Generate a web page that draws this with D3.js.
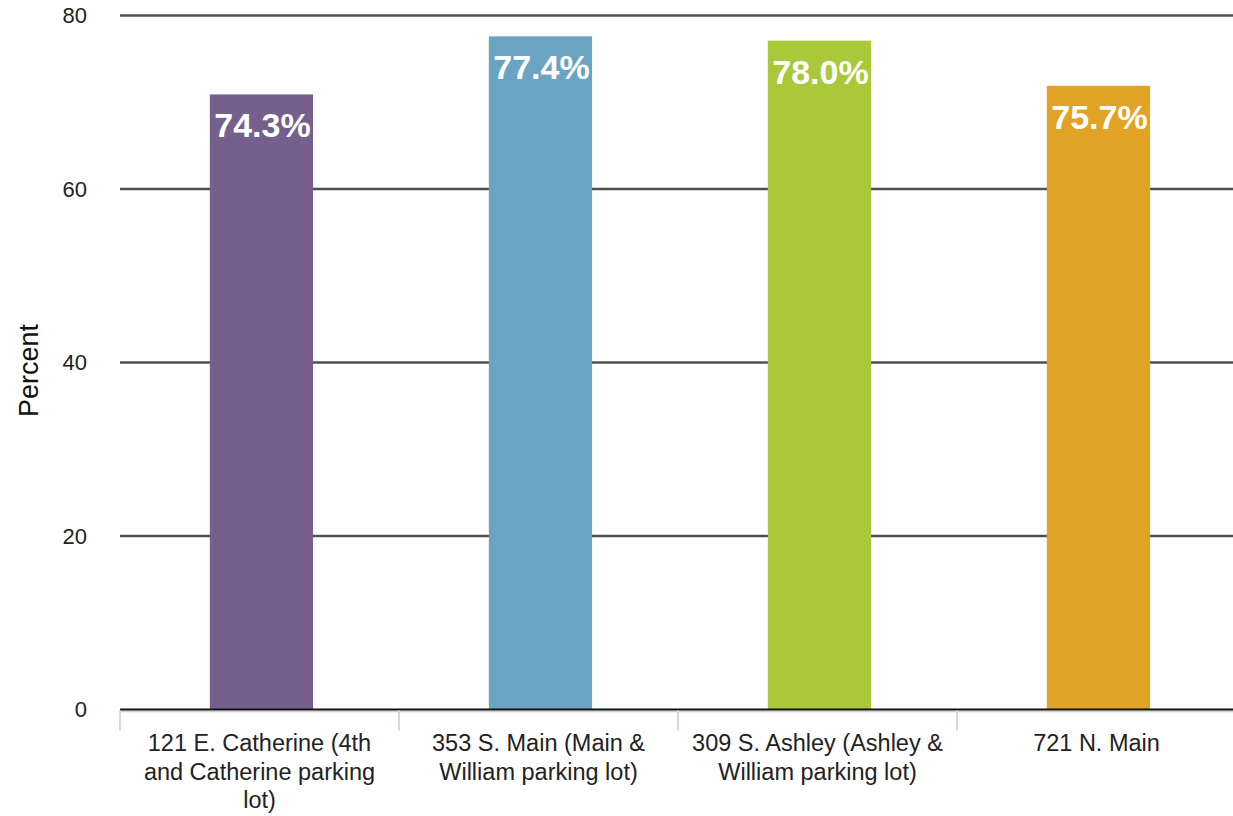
<!DOCTYPE html>
<html>
<head>
<meta charset="utf-8">
<script src="https://cdn.jsdelivr.net/npm/d3@7"></script>
<style>
  html, body { margin: 0; padding: 0; background: #fff; }
  svg { display: block; font-family: "Liberation Sans", Arial, sans-serif; }
</style>
</head>
<body>
<svg id="chart" width="1233" height="816"></svg>
<script>
// ---- data ----
const categories = [
  "121 E. Catherine (4th\nand Catherine parking\nlot)",
  "353 S. Main (Main &\nWilliam parking lot)",
  "309 S. Ashley (Ashley &\nWilliam parking lot)",
  "721 N. Main"
];
const values = [70.9, 77.6, 77.1, 71.9];
const valueLabels = ["74.3%", "77.4%", "78.0%", "75.7%"];
const colors = ["#745f8d", "#6ba3c2", "#a9c83a", "#e0a325"];
const yTicks = [0, 20, 40, 60, 80];
const yTitle = "Percent";

(function () {
// ---- layout ----
const svg = d3.select("#chart");
const mLeft = 120, mRight = 1236, mTop = 15.5, mBottom = 709.5;

const x = d3.scaleBand().domain(d3.range(categories.length)).range([mLeft, mRight]).padding(0);
const y = d3.scaleLinear().domain([0, 80]).range([mBottom, mTop]);
const barFrac = 0.37, barOffset = 0.322;

// gridlines
svg.append("g").selectAll("line")
  .data(yTicks.filter(d => d !== 0))
  .join("line")
  .attr("x1", mLeft).attr("x2", 1233)
  .attr("y1", d => y(d)).attr("y2", d => y(d))
  .attr("stroke", "#505050").attr("stroke-width", 2.5);

// y tick labels
svg.append("g").selectAll("text")
  .data(yTicks)
  .join("text")
  .attr("x", 87).attr("y", d => y(d))
  .attr("dy", "0.35em")
  .attr("text-anchor", "end")
  .attr("font-size", 22)
  .attr("fill", "#222")
  .text(d => d);

// y title
svg.append("text")
  .attr("transform", `translate(38,${(mTop + mBottom) / 2 + 8}) rotate(-90)`)
  .attr("text-anchor", "middle")
  .attr("font-size", 27)
  .attr("fill", "#111")
  .text(yTitle);

// bars
const bw = x.bandwidth();
svg.append("g").selectAll("rect")
  .data(values)
  .join("rect")
  .attr("x", (d, i) => x(i) + bw * barOffset)
  .attr("width", bw * barFrac)
  .attr("y", d => y(d))
  .attr("height", d => y(0) - y(d))
  .attr("fill", (d, i) => colors[i]);

// baseline axis
svg.append("line")
  .attr("x1", mLeft).attr("x2", 1233)
  .attr("y1", y(0) + 2).attr("y2", y(0) + 2)
  .attr("stroke", "#cdd0dc").attr("stroke-width", 1.5);
svg.append("line")
  .attr("x1", mLeft).attr("x2", 1233)
  .attr("y1", y(0)).attr("y2", y(0))
  .attr("stroke", "#111").attr("stroke-width", 2);

// category separator ticks
svg.append("g").selectAll("line")
  .data(d3.range(categories.length + 1))
  .join("line")
  .attr("x1", i => mLeft + i * x.step()).attr("x2", i => mLeft + i * x.step())
  .attr("y1", y(0) + 1).attr("y2", y(0) + 21)
  .attr("stroke", "#d3d7e6").attr("stroke-width", 2);

// category labels
const catG = svg.append("g").selectAll("text")
  .data(categories)
  .join("text")
  .attr("text-anchor", "middle")
  .attr("font-size", 23.5)
  .attr("fill", "#222");
catG.each(function (d, i) {
  const t = d3.select(this);
  d.split("\n").forEach((line, k) => {
    t.append("tspan")
      .attr("x", x(i) + bw / 2)
      .attr("y", 751 + k * 28.5)
      .text(line);
  });
});

// value labels
svg.append("g").selectAll("text")
  .data(values)
  .join("text")
  .attr("x", (d, i) => x(i) + bw * barOffset + bw * barFrac / 2 + 1)
  .attr("y", d => y(d) + 43)
  .attr("text-anchor", "middle")
  .attr("font-size", 34)
  .attr("font-weight", "bold")
  .attr("fill", "#fff")
  .text((d, i) => valueLabels[i]);
})();
</script>
</body>
</html>
